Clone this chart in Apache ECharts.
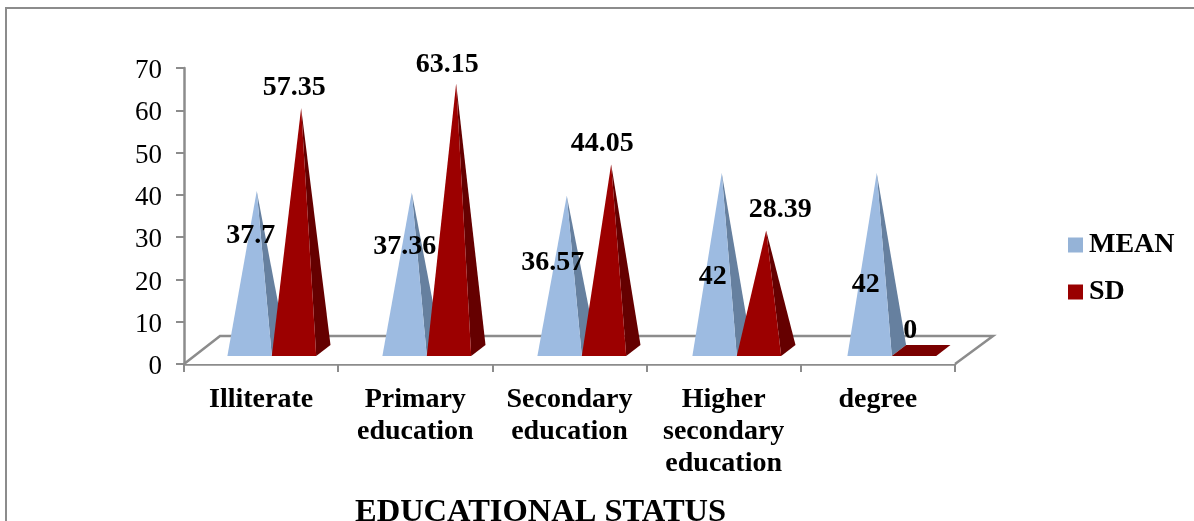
<!DOCTYPE html>
<html><head><meta charset="utf-8">
<style>html,body{margin:0;padding:0;background:#fff}#c{width:1194px;height:521px}</style>
<script src="https://cdn.jsdelivr.net/npm/echarts@6/dist/echarts.min.js"></script>
</head><body><div id="c"></div>
<script>
const categories = ['Illiterate','Primary\neducation','Secondary\neducation','Higher\nsecondary\neducation','degree'];
const meanValues = [37.7,37.36,36.57,42,42];
const sdValues = [57.35,63.15,44.05,28.39,0];
const meanLabels = ['37.7','37.36','36.57','42','42'];
const sdLabels = ['57.35','63.15','44.05','28.39','0'];
const meanLabelNudge = [[-6,45],[-7,54],[-14,67],[-9,104],[-11,112]];
const sdLabelNudge = [[-7,-20],[-9,-19],[-9,-20],[14,-21],[-11,-20]];
const COL = {mean:'#9dbbe1', meanSide:'#66809f', sd:'#9c0000', sdSide:'#650000', sdFlat:'#7a0000', axis:'#8c8c8c'};
const FONT = '"Liberation Serif","Times New Roman",serif';

function poly(points, fill){ return {type:'polygon', shape:{points}, style:{fill}, silent:true}; }

function pyramid(side, labels, nudges, cFront, cSide){
  return function(params, api){
    const i = api.value(0), v = api.value(1);
    const band = api.size([1,0])[0];
    const c0 = api.coord([i,0]), cv = api.coord([i,v]);
    const w = band*0.288;
    const shift = 10.7 + i*0.8;
    const gc = c0[0] + shift;
    const x0 = side === 0 ? gc - w : gc, x1 = x0 + w;
    const yF = c0[1]-8, yB = c0[1]-19;
    const dx = 14.3;
    const ax = (x0+x1)/2 + dx/2, ay = cv[1]-13.5;
    const children = [];
    if (v === 0) {
      children.push(poly([[x0,yF],[x1,yF],[x1+dx,yB],[x0+dx,yB]], COL.sdFlat));
    } else {
      children.push(poly([[ax,ay],[x1,yF],[x1+dx,yB]], cSide));
      children.push(poly([[ax,ay],[x0,yF],[x1,yF]], cFront));
    }
    const n = nudges[i];
    children.push({type:'text', z2:50, silent:true, style:{
      text: labels[i], x: ax+n[0], y: ay+n[1], align:'center', verticalAlign:'middle',
      font:'bold 28px '+FONT, fill:'#000'}});
    return {type:'group', children};
  };
}

function floor(params, api){
  const band = api.size([1,0])[0];
  const l = api.coord([0,0]), r = api.coord([categories.length-1,0]);
  const xl = l[0]-band/2, xr = r[0]+band/2, y = l[1];
  return {type:'polyline', silent:true,
    shape:{points:[[xl,y],[xl+36,y-28],[xr+38,y-28],[xr,y]]},
    style:{fill:'#fff', stroke:COL.axis, lineWidth:2.5}};
}

const chart = echarts.init(document.getElementById('c'));
chart.setOption({
  animation:false,
  backgroundColor:'#fff',
  title:{text:'EDUCATIONAL STATUS', left:350, top:491,
    textStyle:{fontFamily:FONT, fontWeight:'bold', fontSize:32.5, color:'#000'}},
  legend:{orient:'vertical', left:1063, top:226, itemWidth:15, itemHeight:15, itemGap:19,
    icon:'rect', data:['MEAN','SD'],
    textStyle:{fontFamily:FONT, fontWeight:'bold', fontSize:28, color:'#000', padding:[0,0,0,1]}},
  grid:{left:184, right:239, top:68, height:296, containLabel:false},
  xAxis:{type:'category', data:categories, boundaryGap:true,
    axisLine:{lineStyle:{color:COL.axis,width:2.5}},
    axisTick:{show:true,length:8,alignWithLabel:false,lineStyle:{color:COL.axis,width:2}},
    axisLabel:{interval:0,fontFamily:FONT,fontWeight:'bold',fontSize:28,color:'#000',lineHeight:32,margin:20}},
  yAxis:{type:'value', min:0, max:70, interval:10,
    splitLine:{show:false},
    axisLine:{show:true,lineStyle:{color:COL.axis,width:2.5}},
    axisTick:{show:true,length:8,lineStyle:{color:COL.axis,width:2}},
    axisLabel:{fontFamily:FONT,fontSize:27,color:'#000',margin:22,verticalAlign:'top',lineHeight:6}},
  graphic:[{type:'polyline', silent:true, z:-1,
    shape:{points:[[6,521],[6,8],[1194,8]]},
    style:{fill:null,stroke:'#8c8c8c',lineWidth:2}}],
  series:[
    {type:'custom', name:'floor', renderItem:floor, clip:false, z:1, encode:{x:0,y:1}, data:[[0,0]]},
    {type:'custom', name:'MEAN', renderItem:pyramid(0,meanLabels,meanLabelNudge,COL.mean,COL.meanSide), clip:false, z:2,
      itemStyle:{color:'#95b3d7'}, encode:{x:0,y:1}, data:meanValues.map((v,i)=>[i,v])},
    {type:'custom', name:'SD', renderItem:pyramid(1,sdLabels,sdLabelNudge,COL.sd,COL.sdSide), clip:false, z:3,
      itemStyle:{color:'#990000'}, encode:{x:0,y:1}, data:sdValues.map((v,i)=>[i,v])}
  ]
});
</script></body></html>
